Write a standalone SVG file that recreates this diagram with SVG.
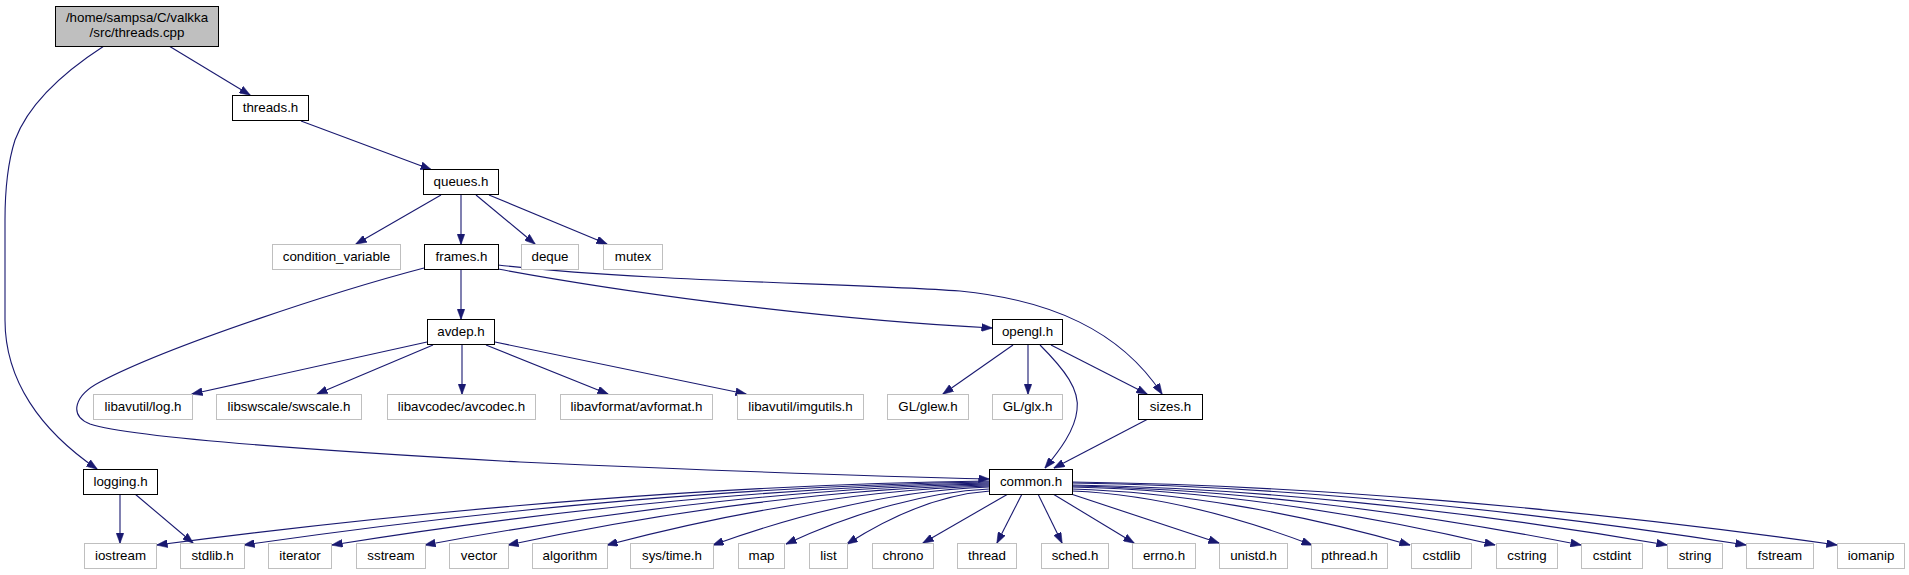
<svg xmlns="http://www.w3.org/2000/svg" width="1909" height="575" viewBox="0 0 1909 575">
<style>
text{font-family:"Liberation Sans",Arial,sans-serif;font-size:13.33px;text-anchor:middle;fill:#000}
.n rect{fill:#fff;stroke:#000;stroke-width:1}
.x rect{fill:#fff;stroke:#bfbfbf;stroke-width:1}
.r rect{fill:#bfbfbf;stroke:#000;stroke-width:1}
#edges path{fill:none;stroke:#191970;stroke-width:1.1;marker-end:url(#arr)}
</style>
<defs>
<marker id="arr" markerUnits="userSpaceOnUse" markerWidth="11" markerHeight="8" viewBox="0 0 11 8" refX="10.5" refY="4" orient="auto">
<path d="M0,0 L11,4 L0,8 z" fill="#191970" stroke="#191970" stroke-width="0.5"/>
</marker>
</defs>
<rect width="1909" height="575" fill="#fff"/>
<g id="edges">
<path d="M169,46 L250,95"/>
<path d="M104,46 C70,68 30,100 15,140 C7,165 5,190 5,220 L5,320 C5,380 40,430 97,469"/>
<path d="M301,121 L431,169.5"/>
<path d="M441,195 L356,244"/>
<path d="M461,195 L461,244"/>
<path d="M476,195 L535,244"/>
<path d="M489,195 L607,244"/>
<path d="M461,270 L461,319"/>
<path d="M424,268 C340,290 170,345 100,382 C75,395 68,415 90,424 C120,434 230,446 520,462 C700,470 850,476 989,479"/>
<path d="M498,269 C600,288 800,318 992,328"/>
<path d="M498,265 C650,282 850,283 960,291 C1050,300 1120,330 1162,394"/>
<path d="M427,342 L192,394"/>
<path d="M433,345 L317,394"/>
<path d="M462,345 L462,394"/>
<path d="M486,345 L608,394"/>
<path d="M495,342 L746,394"/>
<path d="M1013,345 L943,394"/>
<path d="M1028,345 L1028,394"/>
<path d="M1051,345 L1147,394"/>
<path d="M1040,345 C1065,370 1080,390 1077,410 C1075,430 1060,450 1045,468"/>
<path d="M1148,419 L1054,468"/>
<path d="M120,494 L120,543"/>
<path d="M135,494 L193,543"/>
<path d="M989,481 C739,484 448,507 157,545"/>
<path d="M989,482 C765,485 505,507 244,545"/>
<path d="M989,483 C792,486 562,508 332,545"/>
<path d="M989,484 C820,487 622,508 425,545"/>
<path d="M989,485 C845,488 676,509 508,545"/>
<path d="M989,486 C874,489 741,510 607,545"/>
<path d="M989,487 C906,490 810,510 713,545"/>
<path d="M989,489 C928,492 857,511 786,544"/>
<path d="M990,491 C947,494 897,512 847,544"/>
<path d="M1008,494 L923,543"/>
<path d="M1022,494 L997,543"/>
<path d="M1038,494 L1062,543"/>
<path d="M1053,494 L1134,543"/>
<path d="M1068,493 L1219,543"/>
<path d="M1072,491 C1144,494 1228,513 1312,545"/>
<path d="M1072,489 C1173,492 1292,511 1410,545"/>
<path d="M1072,487 C1199,490 1347,510 1495,545"/>
<path d="M1072,486 C1225,489 1403,510 1581,545"/>
<path d="M1072,485 C1250,488 1459,509 1667,545"/>
<path d="M1072,483 C1274,486 1510,508 1746,545"/>
<path d="M1072,482 C1301,485 1569,507 1837,545"/>
</g>
<g id="node-root" class="r"><rect x="55.5" y="6.5" width="163" height="40"/><text x="137" y="22">/home/sampsa/C/valkka</text><text x="137" y="37">/src/threads.cpp</text></g>
<g id="node-threads" class="n"><rect x="232.5" y="95.5" width="76" height="25"/><text x="270.5" y="112">threads.h</text></g>
<g id="node-queues" class="n"><rect x="423.5" y="169.5" width="75" height="25"/><text x="461" y="186">queues.h</text></g>
<g id="node-condvar" class="x"><rect x="272.5" y="244.5" width="128" height="25"/><text x="336.5" y="261">condition_variable</text></g>
<g id="node-frames" class="n"><rect x="424.5" y="244.5" width="74" height="25"/><text x="461.5" y="261">frames.h</text></g>
<g id="node-deque" class="x"><rect x="521.5" y="244.5" width="57" height="25"/><text x="550" y="261">deque</text></g>
<g id="node-mutex" class="x"><rect x="603.5" y="244.5" width="59" height="25"/><text x="633" y="261">mutex</text></g>
<g id="node-avdep" class="n"><rect x="427.5" y="319.5" width="67" height="25"/><text x="461" y="336">avdep.h</text></g>
<g id="node-opengl" class="n"><rect x="992.5" y="319.5" width="70" height="25"/><text x="1027.5" y="336">opengl.h</text></g>
<g id="node-avlog" class="x"><rect x="93.5" y="394.5" width="99" height="25"/><text x="143" y="411">libavutil/log.h</text></g>
<g id="node-swscale" class="x"><rect x="216.5" y="394.5" width="145" height="25"/><text x="289" y="411">libswscale/swscale.h</text></g>
<g id="node-avcodec" class="x"><rect x="387.5" y="394.5" width="148" height="25"/><text x="461.5" y="411">libavcodec/avcodec.h</text></g>
<g id="node-avformat" class="x"><rect x="560.5" y="394.5" width="152" height="25"/><text x="636.5" y="411">libavformat/avformat.h</text></g>
<g id="node-imgutils" class="x"><rect x="737.5" y="394.5" width="126" height="25"/><text x="800.5" y="411">libavutil/imgutils.h</text></g>
<g id="node-glew" class="x"><rect x="887.5" y="394.5" width="81" height="25"/><text x="928" y="411">GL/glew.h</text></g>
<g id="node-glx" class="x"><rect x="992.5" y="394.5" width="70" height="25"/><text x="1027.5" y="411">GL/glx.h</text></g>
<g id="node-sizes" class="n"><rect x="1138.5" y="394.5" width="64" height="25"/><text x="1170.5" y="411">sizes.h</text></g>
<g id="node-logging" class="n"><rect x="83.5" y="469.5" width="74" height="25"/><text x="120.5" y="486">logging.h</text></g>
<g id="node-common" class="n"><rect x="989.5" y="469.5" width="83" height="25"/><text x="1031" y="486">common.h</text></g>
<g id="node-iostream" class="x"><rect x="84.5" y="543.5" width="72" height="25"/><text x="120.5" y="560">iostream</text></g>
<g id="node-stdlib" class="x"><rect x="180.5" y="543.5" width="64" height="25"/><text x="212.5" y="560">stdlib.h</text></g>
<g id="node-iterator" class="x"><rect x="268.5" y="543.5" width="63" height="25"/><text x="300" y="560">iterator</text></g>
<g id="node-sstream" class="x"><rect x="356.5" y="543.5" width="69" height="25"/><text x="391" y="560">sstream</text></g>
<g id="node-vector" class="x"><rect x="449.5" y="543.5" width="59" height="25"/><text x="479" y="560">vector</text></g>
<g id="node-algorithm" class="x"><rect x="532.5" y="543.5" width="75" height="25"/><text x="570" y="560">algorithm</text></g>
<g id="node-systime" class="x"><rect x="630.5" y="543.5" width="83" height="25"/><text x="672" y="560">sys/time.h</text></g>
<g id="node-map" class="x"><rect x="738.5" y="543.5" width="46" height="25"/><text x="761.5" y="560">map</text></g>
<g id="node-list" class="x"><rect x="809.5" y="543.5" width="38" height="25"/><text x="828.5" y="560">list</text></g>
<g id="node-chrono" class="x"><rect x="872.5" y="543.5" width="61" height="25"/><text x="903" y="560">chrono</text></g>
<g id="node-thread" class="x"><rect x="957.5" y="543.5" width="59" height="25"/><text x="987" y="560">thread</text></g>
<g id="node-sched" class="x"><rect x="1041.5" y="543.5" width="67" height="25"/><text x="1075" y="560">sched.h</text></g>
<g id="node-errno" class="x"><rect x="1132.5" y="543.5" width="63" height="25"/><text x="1164" y="560">errno.h</text></g>
<g id="node-unistd" class="x"><rect x="1219.5" y="543.5" width="68" height="25"/><text x="1253.5" y="560">unistd.h</text></g>
<g id="node-pthread" class="x"><rect x="1311.5" y="543.5" width="76" height="25"/><text x="1349.5" y="560">pthread.h</text></g>
<g id="node-cstdlib" class="x"><rect x="1411.5" y="543.5" width="60" height="25"/><text x="1441.5" y="560">cstdlib</text></g>
<g id="node-cstring" class="x"><rect x="1496.5" y="543.5" width="61" height="25"/><text x="1527" y="560">cstring</text></g>
<g id="node-cstdint" class="x"><rect x="1581.5" y="543.5" width="61" height="25"/><text x="1612" y="560">cstdint</text></g>
<g id="node-string" class="x"><rect x="1667.5" y="543.5" width="55" height="25"/><text x="1695" y="560">string</text></g>
<g id="node-fstream" class="x"><rect x="1746.5" y="543.5" width="67" height="25"/><text x="1780" y="560">fstream</text></g>
<g id="node-iomanip" class="x"><rect x="1837.5" y="543.5" width="67" height="25"/><text x="1871" y="560">iomanip</text></g>
</svg>
